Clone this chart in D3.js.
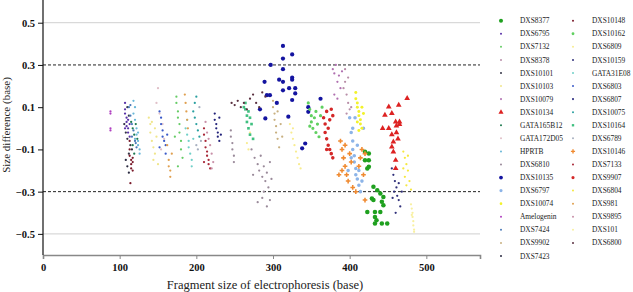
<!DOCTYPE html>
<html>
<head>
<meta charset="utf-8">
<script src="https://d3js.org/d3.v7.min.js"></script>
<style>
  body { margin: 0; background: #fff; }
  text { font-family: "Liberation Serif", "Times New Roman", serif; }
  .tick text { font-weight: bold; font-size: 10.5px; fill: #111; }
  .legend text { font-size: 7.4px; fill: #222; }
</style>
</head>
<body>
<svg width="633" height="292"></svg>
<script>
// ---- data: [fragment size (base), size difference (base)] per locus ----
var amelogenin = [[88,0.08],[88,0.07],[88,0.0],[88,-0.01]];
var dxs6795 = [[107,0.12],[107,0.09],[107,0.07],[109,0.05],[109,0.03],[109,0.01],[111,0.0],[111,-0.02],[111,0.04],[113,-0.04],[113,0.02],[107,0.0]];
var dxs10101 = [[108,-0.02],[110,-0.05],[112,0.06],[114,-0.08],[116,-0.1],[110,0.1],[112,-0.12]];
var dxs10148 = [[113,-0.1],[113,-0.13],[115,-0.15],[115,-0.17],[115,-0.19],[117,-0.16],[117,-0.14],[113,-0.06],[117,-0.2],[114,-0.26]];
var hprtb = [[118,0.13],[120,0.1],[120,0.04],[122,0.0],[122,-0.03],[124,-0.06],[124,-0.08],[126,-0.1],[126,-0.12],[120,-0.05],[118,0.07],[124,-0.02]];
var dxs7424 = [[112,0.1],[114,0.06],[116,0.02],[118,-0.01],[120,-0.06],[122,-0.09],[116,-0.04],[114,0.11],[121,-0.07]];
var gata165b12 = [[115,0.03],[117,0.0],[119,-0.03],[121,0.02],[123,-0.05],[117,-0.08],[119,-0.12]];
var dxs7423 = [[108,-0.15],[110,-0.18],[112,-0.21],[106,0.02]];
var dxs10103 = [[138,0.05],[140,0.02],[140,-0.02],[142,-0.06],[144,-0.09],[146,0.0],[146,-0.12],[148,-0.04],[142,0.03],[144,-0.15],[150,-0.17]];
var gata172d05 = [[150,0.19],[148,0.12],[152,0.07],[156,0.02],[158,-0.05],[154,-0.1]];
var dxs6803 = [[152,0.08],[154,0.05],[154,0.02],[156,-0.01],[156,-0.04],[158,-0.06],[160,-0.08],[160,-0.12],[162,-0.03],[152,-0.09]];
var dxs981 = [[164,-0.15],[164,-0.18],[166,-0.2],[166,-0.23],[162,-0.08],[168,-0.12],[185,0.16],[186,0.12],[187,0.08],[188,0.04],[189,0.0]];
var dxs7132 = [[174,0.15],[174,0.12],[176,0.08],[176,0.05],[178,0.02],[178,-0.02],[180,-0.06],[180,-0.1],[182,-0.14],[176,-0.18],[172,-0.04]];
var gata31e08 = [[186,0.0],[188,-0.03],[190,-0.06],[190,-0.09],[192,-0.12],[194,-0.15],[196,-0.05],[188,0.04],[194,-0.18]];
var dxs10075 = [[196,0.08],[198,0.05],[200,0.02],[202,-0.01],[204,-0.04],[198,0.12],[200,0.15]];
var dxs6789 = [[200,-0.08],[202,-0.1],[204,0.1],[206,-0.06]];
var dxs7133 = [[210,0.0],[210,-0.03],[212,-0.06],[212,-0.09],[214,-0.11],[214,-0.13],[216,-0.15],[216,-0.17],[218,-0.19],[210,-0.16]];
var dxs9895 = [[212,0.03],[214,-0.02],[216,-0.05],[218,-0.08],[220,-0.12],[222,-0.16],[220,-0.19]];
var dxs6807 = [[224,0.07],[224,0.04],[226,0.02],[226,0.0],[228,-0.02],[228,-0.04],[230,-0.06],[230,0.05],[232,-0.03]];
var dxs6810 = [[245,-0.01],[245,-0.04],[247,-0.07],[247,-0.1],[249,-0.13],[249,-0.16],[272,-0.1],[276,-0.14],[280,-0.17],[282,-0.2],[284,-0.13],[286,-0.23],[288,-0.18],[290,-0.25],[292,-0.21],[294,-0.28],[296,-0.16],[298,-0.24],[280,-0.35],[286,-0.33],[292,-0.37],[296,-0.34],[274,-0.22],[288,-0.3]];
var dxs6800 = [[246,0.12],[250,0.11],[254,0.13],[258,0.1],[262,0.12],[266,0.09],[270,0.14],[274,0.16],[278,0.12],[282,0.1],[286,0.17],[290,0.15]];
var dxs10164 = [[264,0.12],[264,0.09],[266,0.06],[266,0.03],[268,0.0],[268,0.08],[270,-0.03],[270,0.05],[272,0.02],[274,-0.05],[262,0.1]];
var dxs6809 = [[322,0.02],[324,-0.02],[326,-0.05],[328,-0.08],[330,-0.11],[332,-0.14],[334,-0.17],[336,-0.19],[326,0.0],[266,-0.07],[268,-0.1],[270,-0.02]];
var dxs10135 = [[313,0.39],[325,0.35],[313,0.33],[297,0.30],[313,0.28],[308,0.23],[313,0.22],[289,0.22],[325,0.24],[325,0.23],[321,0.19],[329,0.19],[313,0.18],[329,0.165],[325,0.134],[292,0.157],[296,0.157],[346,0.1],[346,0.078],[362,0.14],[338,-0.095],[342,-0.072],[290,0.047],[320,0.055],[305,0.12],[283,0.09]];
var dxs9902 = [[300,0.13],[300,0.1],[302,0.07],[302,0.04],[304,0.01],[304,-0.02],[306,-0.05],[306,0.08],[308,-0.09],[310,0.02],[312,-0.04]];
var dxs10079 = [[378,0.28],[380,0.26],[382,0.3],[384,0.22],[386,0.25],[388,0.19],[380,0.16],[384,0.14],[390,0.27]];
var dxs8378 = [[392,0.19],[394,0.22],[396,0.16],[398,0.12],[400,0.09],[396,0.07],[394,0.28],[398,0.24],[402,0.1]];
var dxs10162 = [[346,0.12],[348,0.09],[350,0.06],[350,0.03],[352,0.0],[354,0.05],[356,-0.02],[356,0.08],[358,0.02],[360,-0.04],[362,0.06],[364,0.1],[348,0.01]];
var dxs9907 = [[366,0.05],[368,0.02],[368,-0.02],[370,-0.05],[370,0.08],[372,-0.08],[372,0.0],[374,-0.1],[374,0.04],[376,-0.12],[376,0.09],[378,-0.14],[378,0.06],[370,-0.1]];
var dxs10074 = [[408,0.17],[408,0.14],[410,0.12],[410,0.1],[412,0.08],[412,0.06],[414,0.04],[414,0.02],[416,0.0],[416,0.1],[418,0.07],[410,0.03],[412,-0.01]];
var dxs6797 = [[400,0.05],[402,-0.02],[404,-0.06],[404,-0.1],[406,-0.13],[406,-0.16],[408,-0.19],[408,-0.22],[410,-0.24],[412,-0.27],[414,-0.3],[402,-0.14],[410,-0.08],[404,0.0],[412,-0.2],[416,-0.25],[398,-0.2],[407,0.05],[418,0.0]];
var dxs10146 = [[388,-0.06],[390,-0.1],[392,-0.14],[394,-0.18],[396,-0.22],[398,-0.25],[390,-0.2],[386,-0.22],[400,-0.12],[402,-0.16],[404,-0.28],[408,-0.3],[412,-0.18],[414,-0.14],[416,-0.1],[418,-0.22],[420,-0.34],[394,-0.08],[420,-0.12]];
var dxs8377 = [[420,-0.111],[425,-0.119],[420,-0.151],[425,-0.151],[423,-0.19],[425,-0.182],[423,-0.396],[431,-0.277],[436,-0.293],[440,-0.309],[444,-0.325],[429,-0.332],[431,-0.34],[442,-0.348],[433,-0.396],[440,-0.396],[433,-0.42],[435,-0.435],[449,-0.451],[442,-0.451],[433,-0.451],[444,-0.364]];
var dxs10134 = [[475,0.142],[464,0.11],[451,0.102],[455,0.071],[446,0.063],[460,0.031],[465,0.031],[443,0.0],[451,0.0],[461,0.012],[465,0.019],[461,-0.02],[457,-0.064],[455,-0.088],[457,-0.111],[460,-0.151],[460,-0.19],[455,-0.03],[463,-0.05]];
var dxs10159 = [[455,-0.19],[457,-0.22],[459,-0.25],[461,-0.28],[458,-0.3],[462,-0.32],[464,-0.34],[466,-0.37],[460,-0.4],[464,-0.26],[468,-0.3],[456,-0.33]];
var dxs6804 = [[470,-0.11],[472,-0.14],[474,-0.17],[476,-0.2],[472,-0.23],[478,-0.25],[474,-0.27],[480,-0.29],[476,-0.13],[470,-0.19]];
var dxs101 = [[480,-0.36],[481,-0.38],[482,-0.4],[482,-0.42],[483,-0.44],[483,-0.46],[484,-0.48],[484,-0.49],[481,-0.41]];

var loci = ["DXS8377","DXS6795","DXS7132","DXS8378","DXS10101","DXS10103","DXS10079","DXS10134","GATA165B12","GATA172D05","HPRTB","DXS6810","DXS10135","DXS6797","DXS10074","Amelogenin","DXS7424","DXS9902","DXS7423",
            "DXS10148","DXS10162","DXS6809","DXS10159","GATA31E08","DXS6803","DXS6807","DXS10075","DXS10164","DXS6789","DXS10146","DXS7133","DXS9907","DXS6804","DXS981","DXS9895","DXS101","DXS6800"];
var series = [dxs8377,dxs6795,dxs7132,dxs8378,dxs10101,dxs10103,dxs10079,dxs10134,gata165b12,gata172d05,hprtb,dxs6810,dxs10135,dxs6797,dxs10074,amelogenin,dxs7424,dxs9902,dxs7423,
              dxs10148,dxs10162,dxs6809,dxs10159,gata31e08,dxs6803,dxs6807,dxs10075,dxs10164,dxs6789,dxs10146,dxs7133,dxs9907,dxs6804,dxs981,dxs9895,dxs101,dxs6800];
var xTicks = [0,100,200,300,400,500];
var yTicks = [-0.5,-0.3,-0.1,0.1,0.3,0.5];

// ---- styles ----
var colors = ["#1fa01f","#5a32a8","#66cc66","#b88ea8","#333344","#f0e68c","#b070b0","#dd2222","#1e7a50","#e0c0c8","#6ab8d8","#9a8a9a","#1414a0","#8cb4e8","#f2f22a","#b040c0","#4a7ab8","#c8b080","#2a2a40",
              "#7a1a2a","#60d060","#f8ec90","#30307a","#70d0c8","#3a5ac8","#22227a","#2aa0a0","#40c080","#a8b0c0","#f08a30","#a82838","#d42828","#f5e840","#e0a050","#c890a8","#f8f0a0","#5a3040"];
var big = {"DXS8377":16,"DXS10135":14,"DXS6797":10,"DXS9907":10,"DXS10146":12,"DXS10134":14,"DXS10164":7,"DXS10162":8,"DXS10074":7};
var shapes = {"DXS10134":d3.symbolTriangle,"DXS10146":d3.symbolCross,"DXS10164":d3.symbolSquare};

var svg = d3.select("svg");
var x = d3.scaleLinear().domain([0,570]).range([43,480]);
var y = d3.scaleLinear().domain([-0.6,0.6]).range([255,1.6]);

// grid / reference lines
svg.selectAll(".grid").data([0.5,-0.5]).enter().append("line")
  .attr("x1",43).attr("x2",480).attr("y1",function(d){return y(d);}).attr("y2",function(d){return y(d);})
  .attr("stroke","#d9d9d9").attr("stroke-width",1.2);
svg.selectAll(".ref").data([0.3,-0.3]).enter().append("line")
  .attr("x1",43).attr("x2",480).attr("y1",function(d){return y(d);}).attr("y2",function(d){return y(d);})
  .attr("stroke","#222").attr("stroke-width",1).attr("stroke-dasharray","3,2");

// points
var plot = svg.append("g");
loci.forEach(function(name,i){
  var sym = d3.symbol().type(shapes[name] || d3.symbolCircle).size(big[name] || 4);
  plot.append("g").selectAll("path").data(series[i]).enter().append("path")
    .attr("d",sym)
    .attr("transform",function(d){return "translate("+x(d[0])+","+y(d[1])+")";})
    .attr("fill",colors[i]);
});

// axes
var xAxis = svg.append("g").attr("transform","translate(0,255)")
  .call(d3.axisBottom(x).tickValues(xTicks).tickSize(4).tickPadding(5));
xAxis.select(".domain").attr("stroke","#888").attr("stroke-width",1.6);
xAxis.selectAll(".tick line").attr("stroke","#888");

var yAxis = svg.append("g").attr("transform","translate(43,0)")
  .call(d3.axisLeft(y).tickValues(yTicks).tickSize(5).tickPadding(3).tickFormat(d3.format(".1f")));
yAxis.select(".domain").attr("stroke","#111").attr("stroke-width",1.2).attr("d","M0,0V255");
yAxis.selectAll(".tick line").attr("stroke","#111");
svg.selectAll(".tick text").attr("font-family","'Liberation Serif', serif");

svg.append("text").attr("x",265).attr("y",289).attr("text-anchor","middle")
  .attr("font-size",12.5).attr("fill","#222").text("Fragment size of electrophoresis (base)");
svg.append("text").attr("transform","translate(10,125) rotate(-90)").attr("text-anchor","middle")
  .attr("font-size",11).attr("fill","#222").text("Size difference (base)");

// legend
var leg = svg.append("g").attr("class","legend");
loci.forEach(function(name,i){
  var col = i < 19 ? 0 : 1, row = i < 19 ? i : i - 19;
  var g = leg.append("g").attr("transform","translate("+(col ? 573 : 501)+","+(20.7 + row*13.07)+")");
  g.append("path").attr("d",d3.symbol().type(shapes[name] || d3.symbolCircle).size((big[name] || 4)*0.8)).attr("fill",colors[i]);
  g.append("text").attr("x",19).attr("y",2.6).text(name);
});
</script>
</body>
</html>
